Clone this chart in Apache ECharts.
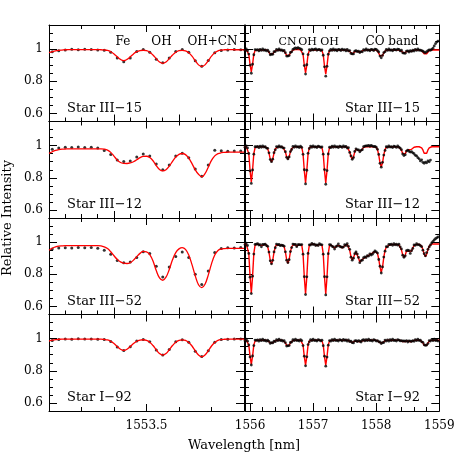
<!DOCTYPE html>
<html><head><meta charset="utf-8">
<script src="https://cdn.jsdelivr.net/npm/echarts@6/dist/echarts.min.js"></script>
<style>html,body{margin:0;padding:0;background:#fff}#c{width:463px;height:463px}</style>
</head><body><div id="c"></div>
<script>
// ---------------- DATA ----------------
const stars = ['Star III\u221215', 'Star III\u221212', 'Star III\u221252', 'Star I\u221292'];
const yTickLabels = [0.6, 0.8, 1];
const leftXTickLabels = [1553.5];
const rightXTickLabels = [1556, 1557, 1558, 1559];
const leftLineLabels = ['Fe', 'OH', 'OH+CN'];
const rightLineLabels = ['CN', 'OH', 'OH', 'CO band'];

const waveLeft = [1553.20,1553.21,1553.22,1553.23,1553.24,1553.25,1553.26,1553.27,1553.28,1553.29,
1553.30,1553.31,1553.32,1553.33,1553.34,1553.35,1553.36,1553.37,1553.38,1553.39,
1553.40,1553.41,1553.42,1553.43,1553.44,1553.45,1553.46,1553.47,1553.48,1553.49,
1553.50,1553.51,1553.52,1553.53,1553.54,1553.55,1553.56,1553.57,1553.58,1553.59,
1553.60,1553.61,1553.62,1553.63,1553.64,1553.65,1553.66,1553.67,1553.68,1553.69,
1553.70,1553.71,1553.72,1553.73,1553.74,1553.75,1553.76,1553.77,1553.78,1553.79,1553.80];

const leftModel15 = [.978,.984,.989,.992,.994,.996,.997,.997,.997,.997,
.997,.997,.997,.997,.997,.997,.996,.995,.992,.984,
.970,.952,.936,.929,.936,.952,.970,.984,.991,.993,
.990,.981,.963,.941,.920,.912,.920,.941,.963,.981,
.990,.992,.989,.977,.956,.928,.902,.892,.902,.928,
.956,.977,.989,.994,.996,.997,.997,.996,.996,.995,.995];
const leftModel12 = [.952,.962,.970,.975,.978,.979,.980,.980,.980,.980,
.980,.980,.980,.980,.980,.980,.980,.978,.972,.958,
.935,.910,.895,.890,.889,.892,.900,.912,.925,.933,
.934,.926,.906,.876,.852,.843,.850,.872,.902,.929,
.946,.951,.944,.922,.888,.850,.822,.806,.826,.866,
.908,.936,.950,.956,.958,.959,.960,.960,.960,.960,.960];
const leftModel52 = [.950,.962,.970,.975,.977,.978,.978,.978,.978,.978,
.978,.978,.978,.978,.978,.978,.976,.970,.960,.940,
.915,.893,.877,.869,.867,.872,.888,.910,.930,.942,
.940,.922,.883,.823,.778,.763,.782,.830,.890,.935,
.958,.966,.955,.920,.860,.790,.735,.717,.738,.795,
.865,.920,.948,.957,.960,.961,.961,.961,.961,.961,.961];
const leftModel92 = [.985,.990,.994,.996,.997,.997,.997,.997,.997,.997,
.997,.997,.997,.997,.997,.997,.997,.995,.992,.984,
.969,.951,.934,.927,.934,.951,.969,.984,.991,.993,
.989,.978,.957,.931,.907,.897,.907,.931,.957,.978,
.989,.992,.989,.976,.954,.924,.898,.887,.898,.924,
.954,.976,.989,.994,.996,.997,.997,.997,.997,.997,.997];

const waveLeftObs = [1553.21,1553.23,1553.25,1553.27,1553.29,1553.31,1553.33,1553.35,1553.37,1553.39,
1553.41,1553.43,1553.45,1553.47,1553.49,1553.51,1553.53,1553.55,1553.57,1553.59,
1553.61,1553.63,1553.65,1553.67,1553.69,1553.71,1553.73,1553.75,1553.77,1553.79];
const leftObs15 = [.983,.990,.994,.999,.996,1.000,.997,.995,.993,.980,.945,.922,.945,.985,.998,
.980,.937,.915,.945,.985,.998,.980,.928,.893,.930,.978,.992,.995,.997,.996];
const leftObs12 = [.978,.986,.990,.989,.991,.988,.990,.986,.970,.945,.910,.902,.905,.930,.948,
.935,.885,.850,.880,.935,.952,.925,.855,.810,.880,.972,.968,.965,.967,.966];
const leftObs52 = [.958,.963,.965,.964,.966,.965,.967,.962,.950,.925,.885,.872,.876,.905,.940,
.930,.850,.783,.845,.910,.938,.905,.800,.736,.820,.935,.960,.965,.964,.966];
const leftObs92 = [.988,.995,.998,.996,.999,.997,.998,.996,.994,.982,.948,.926,.950,.985,.995,
.980,.930,.898,.932,.980,.993,.977,.922,.889,.925,.978,.994,.996,.998,.997];

const waveRight = [1555.90,1555.92,1555.94,1555.96,1555.98,1556.00,1556.02,1556.04,1556.06,1556.08,
1556.10,1556.12,1556.14,1556.16,1556.18,1556.20,1556.22,1556.24,1556.26,1556.28,
1556.30,1556.32,1556.34,1556.36,1556.38,1556.40,1556.42,1556.44,1556.46,1556.48,
1556.50,1556.52,1556.54,1556.56,1556.58,1556.60,1556.62,1556.64,1556.66,1556.68,
1556.70,1556.72,1556.74,1556.76,1556.78,1556.80,1556.82,1556.84,1556.86,1556.88,
1556.90,1556.92,1556.94,1556.96,1556.98,1557.00,1557.02,1557.04,1557.06,1557.08,
1557.10,1557.12,1557.14,1557.16,1557.18,1557.20,1557.22,1557.24,1557.26,1557.28,
1557.30,1557.32,1557.34,1557.36,1557.38,1557.40,1557.42,1557.44,1557.46,1557.48,
1557.50,1557.52,1557.54,1557.56,1557.58,1557.60,1557.62,1557.64,1557.66,1557.68,
1557.70,1557.72,1557.74,1557.76,1557.78,1557.80,1557.82,1557.84,1557.86,1557.88,
1557.90,1557.92,1557.94,1557.96,1557.98,1558.00,1558.02,1558.04,1558.06,1558.08,
1558.10,1558.12,1558.14,1558.16,1558.18,1558.20,1558.22,1558.24,1558.26,1558.28,
1558.30,1558.32,1558.34,1558.36,1558.38,1558.40,1558.42,1558.44,1558.46,1558.48,
1558.50,1558.52,1558.54,1558.56,1558.58,1558.60,1558.62,1558.64,1558.66,1558.68,
1558.70,1558.72,1558.74,1558.76,1558.78,1558.80,1558.82,1558.84,1558.86,1558.88,
1558.90,1558.92,1558.94,1558.96,1558.98,1559.00];

const rightModel15 = [.995,.995,.995,.992,.969,.905,.858,.905,.969,.992,
.995,.994,.995,.996,.995,.994,.995,.996,.994,.991,
.982,.969,.963,.969,.982,.991,.994,.995,.996,.995,
.994,.994,.989,.977,.961,.952,.961,.977,.989,.994,
.996,.997,.996,.997,.996,.995,.992,.968,.901,.852,
.901,.968,.992,.995,.994,.995,.996,.995,.994,.995,
.996,.995,.991,.966,.896,.845,.896,.966,.991,.995,
.994,.995,.996,.995,.994,.995,.996,.995,.994,.995,
.995,.994,.994,.992,.985,.975,.970,.975,.984,.990,
.988,.983,.980,.983,.989,.993,.995,.996,.995,.994,
.995,.996,.995,.994,.995,.994,.989,.977,.959,.950,
.959,.977,.989,.994,.995,.996,.995,.994,.995,.996,
.995,.994,.995,.994,.992,.987,.979,.975,.979,.985,
.988,.986,.985,.987,.991,.994,.995,.996,.995,.994,
.994,.991,.983,.971,.965,.971,.983,.991,.994,.995,
.996,.995,.994,.995,.996,.995];
const rightObs15 = [.999,.992,1.001,.990,.969,.900,.850,.906,.965,.997,
.994,.997,.989,.999,.992,1.001,.993,.995,.989,.994,
.983,.965,.968,.968,.984,.985,.998,.992,1.001,.993,
.995,.989,.992,.978,.957,.957,.960,.979,.983,.998,
1.003,1.008,1.004,1.009,1.005,1.002,.996,.970,.898,.845,
.903,.966,.997,.991,1.000,.994,.998,1.002,.993,.997,
.999,.991,.995,.962,.890,.832,.893,.968,.989,.999,
.992,1.001,.993,.996,.990,.998,.996,.991,1.000,.994,
.997,.989,.998,.989,.991,.973,.970,.970,.987,.991,
.984,.988,.979,.985,.983,.997,.992,1.001,.993,.995,
.990,.998,.996,.991,1.000,.999,.990,.982,.957,.946,
.961,.978,.984,.998,.992,1.001,.993,.995,.990,.998,
.996,.994,1.000,.998,.989,.993,.977,.975,.974,.988,
.989,.982,.990,.986,.993,.988,.999,.992,1.001,.993,
.994,.990,.988,.981,.978,.984,.990,.995,.993,.998,
1.006,1.020,1.034,1.044,1.050,null];

const rightModel12 = [.993,.993,.993,.988,.951,.848,.773,.848,.951,.988,
.993,.993,.993,.993,.993,.993,.993,.993,.990,.980,
.954,.917,.898,.917,.954,.980,.990,.993,.993,.993,
.993,.991,.982,.961,.931,.915,.931,.961,.982,.991,
.993,.993,.993,.993,.993,.993,.988,.950,.845,.768,
.845,.950,.988,.993,.993,.993,.993,.993,.993,.993,
.993,.993,.988,.950,.845,.768,.845,.950,.988,.993,
.993,.993,.993,.993,.993,.993,.993,.993,.993,.993,
.993,.993,.991,.983,.961,.931,.916,.931,.961,.979,
.978,.969,.963,.969,.981,.989,.992,.993,.993,.993,
.993,.993,.993,.993,.993,.989,.976,.942,.893,.868,
.893,.942,.976,.989,.993,.993,.993,.993,.993,.993,
.993,.993,.993,.991,.986,.971,.951,.940,.950,.969,
.978,.975,.973,.977,.985,.990,.992,.993,.993,.993,
.991,.986,.973,.953,.943,.953,.973,.986,.991,.993,
.993,.993,.993,.993,.993,.993];
const rightObs12 = [.997,.990,.999,.986,.951,.843,.765,.849,.947,.993,
.992,.995,.987,.997,.990,.999,.991,.993,.985,.983,
.955,.913,.900,.916,.956,.974,.994,.990,.999,.991,
.993,.986,.985,.962,.927,.917,.930,.963,.976,.995,
.990,.999,.991,.993,.988,.996,.989,.946,.850,.762,
.847,.952,.982,.997,.990,.999,.991,.993,.988,.996,
.994,.989,.992,.947,.851,.760,.845,.948,.990,.987,
.997,.990,.999,.991,.993,.988,.996,.994,.989,.998,
.992,.995,.985,.987,.958,.936,.915,.926,.964,.980,
.974,.974,.962,.971,.975,.993,.997,.998,.999,1.001,
.996,1.002,.997,.994,.995,.990,.977,.945,.890,.866,
.896,.941,.970,.993,.990,.999,.991,.993,.988,.996,
.994,.989,.998,.990,.985,.975,.948,.938,.944,.966,
.972,.965,.960,.962,.955,.950,.940,.936,.925,.918,
.905,.912,.896,.890,.898,.893,.905,.899,.910,null,
null,null,null,null,null,null];

const rightModel52 = [.988,.988,.988,.981,.930,.787,.683,.787,.930,.981,
.988,.988,.986,.980,.974,.980,.986,.988,.984,.971,
.937,.888,.863,.888,.937,.971,.984,.986,.980,.976,
.981,.984,.972,.939,.892,.868,.892,.939,.972,.984,
.988,.980,.974,.980,.986,.988,.981,.929,.783,.678,
.783,.929,.981,.988,.988,.988,.986,.982,.978,.982,
.986,.988,.981,.929,.783,.678,.783,.929,.981,.986,
.978,.968,.963,.968,.978,.984,.978,.968,.963,.968,
.978,.985,.986,.977,.949,.910,.890,.905,.925,.938,
.930,.900,.877,.883,.893,.900,.903,.908,.913,.918,
.922,.927,.932,.938,.942,.945,.930,.895,.845,.812,
.845,.905,.950,.968,.975,.980,.985,.985,.985,.985,
.985,.985,.985,.983,.974,.952,.921,.905,.920,.945,
.953,.943,.935,.945,.965,.978,.984,.986,.986,.986,
.983,.975,.954,.925,.910,.925,.954,.975,.983,.988,
.988,.988,.988,.988,.988,.988];
const rightObs52 = [.992,.985,.994,.979,.930,.782,.680,.788,.926,.986,
.987,.990,.982,.984,.971,.986,.984,.988,.979,.974,
.938,.884,.865,.887,.939,.965,.988,.983,.986,.978,
.981,.979,.975,.940,.888,.873,.891,.941,.966,.988,
.985,.986,.972,.984,.984,.983,.985,.925,.785,.674,
.784,.930,.983,.982,.992,.985,.988,.979,.983,.979,
.990,.985,.983,.925,.785,.672,.784,.928,.985,.982,
.974,.970,.957,.972,.976,.989,.974,.970,.968,.969,
.984,.979,.990,.974,.955,.906,.888,.900,.928,.939,
.926,.905,.872,.885,.888,.903,.908,.904,.916,.913,
.927,.920,.925,.936,.945,.940,.932,.892,.850,.808,
.846,.907,.944,.972,.971,.986,.984,.987,.980,.990,
.983,.988,.981,.987,.971,.958,.919,.906,.915,.947,
.950,.947,.930,.947,.961,.982,.980,.990,.983,.985,
.978,.972,.950,.928,.915,.935,.955,.970,.982,.995,
1.005,1.014,1.021,1.027,1.032,null];

const rightModel92 = [.990,.990,.990,.986,.961,.891,.840,.891,.961,.986,
.990,.990,.990,.990,.990,.990,.990,.990,.989,.987,
.982,.974,.970,.974,.982,.987,.989,.990,.990,.990,
.990,.989,.985,.974,.958,.950,.958,.974,.985,.989,
.990,.990,.990,.990,.990,.990,.986,.961,.888,.835,
.888,.961,.986,.990,.990,.990,.990,.990,.990,.990,
.990,.990,.986,.961,.888,.835,.888,.961,.986,.990,
.990,.990,.990,.990,.990,.990,.990,.990,.990,.990,
.990,.990,.990,.988,.984,.978,.975,.978,.984,.987,
.985,.982,.980,.982,.986,.989,.990,.990,.990,.990,
.990,.990,.990,.990,.990,.989,.987,.982,.974,.970,
.974,.982,.987,.989,.990,.990,.990,.990,.990,.990,
.990,.990,.990,.990,.989,.986,.982,.980,.982,.985,
.985,.982,.980,.982,.986,.989,.990,.990,.990,.990,
.989,.985,.974,.958,.950,.958,.974,.985,.989,.990,
.990,.990,.990,.990,.990,.990];
const rightObs92 = [.994,.987,.996,.984,.961,.886,.836,.892,.957,.991,
.989,.992,.984,.994,.987,.996,.988,.990,.984,.990,
.983,.970,.975,.973,.984,.981,.993,.987,.996,.988,
.990,.984,.988,.975,.954,.955,.957,.976,.979,.993,
.987,.996,.988,.990,.985,.993,.987,.957,.891,.831,
.887,.963,.980,.994,.987,.996,.988,.990,.985,.993,
.991,.986,.990,.956,.891,.829,.885,.959,.988,.984,
.994,.987,.996,.988,.990,.985,.993,.991,.986,.995,
.989,.992,.984,.992,.981,.984,.975,.973,.986,.988,
.981,.987,.984,.979,.990,.993,.986,.994,.987,.996,
.988,.990,.985,.993,.991,.985,.988,.980,.979,.969,
.975,.976,.991,.985,.992,.984,.994,.987,.996,.988,
.990,.985,.993,.991,.986,.988,.984,.986,.983,.988,
.979,.986,.985,.982,.987,.983,.994,.987,.996,.988,
.990,.980,.977,.962,.958,.960,.969,.987,.985,.994,
.987,.996,.988,.990,.985,null];

// ---------------- CHART ----------------
const leftModels = [leftModel15, leftModel12, leftModel52, leftModel92];
const leftObs = [leftObs15, leftObs12, leftObs52, leftObs92];
const rightModels = [rightModel15, rightModel12, rightModel52, rightModel92];
const rightObs = [rightObs15, rightObs12, rightObs52, rightObs92];

const FONT = '"DejaVu Serif", serif';
const rowTop = [25, 121.5, 218, 314.5], rowH = 96.5;
const cols = [
  {left: 49, width: 195, range: [1553.2, 1553.8]},
  {left: 245, width: 194.3, range: [1555.92, 1559]}
];
const yMinor = [0.65, 0.7, 0.75, 0.85, 0.9, 0.95, 1.05, 1.1];
const yMajor = [0.6, 0.8, 1];
const lTopMinor = [1553.3, 1553.4, 1553.6, 1553.7], lTopMajor = [1553.5];
const lBotMinor = [1553.25, 1553.3, 1553.35, 1553.45, 1553.5, 1553.55, 1553.65, 1553.7, 1553.75];
const lBotMajor = [1553.4, 1553.6];
const rMinor = [1556.2, 1556.4, 1556.6, 1556.8, 1557.2, 1557.4, 1557.6, 1557.8, 1558.2, 1558.4, 1558.6, 1558.8];
const rMajor = [1556, 1557, 1558];

const grid = [], xAxis = [], yAxis = [], series = [];
const lineStyle = {color: '#000', width: 1};
function mkX(gi, range, pos, ticks, len, showLine, labels) {
  return {type: 'value', gridIndex: gi, min: range[0], max: range[1], position: pos,
    axisLine: {show: showLine, onZero: false, lineStyle},
    axisTick: {show: true, inside: true, length: len, customValues: ticks, lineStyle},
    axisLabel: {show: !!labels, customValues: labels || [], margin: 9, color: '#000',
      fontFamily: FONT, fontSize: 12, formatter: v => String(v)},
    splitLine: {show: false}};
}
function mkY(gi, pos, ticks, len, showLine, labels) {
  return {type: 'value', gridIndex: gi, min: 0.55, max: 1.15, position: pos,
    axisLine: {show: showLine, onZero: false, lineStyle},
    axisTick: {show: true, inside: true, length: len, customValues: ticks, lineStyle},
    axisLabel: {show: !!labels, customValues: labels || [], margin: 6, color: '#000',
      fontFamily: FONT, fontSize: 12, formatter: v => String(v)},
    splitLine: {show: false}};
}
const zip = (xs, ys) => xs.map((x, i) => [x, ys[i]]).filter(p => p[1] !== null && p[1] !== undefined);

for (let r = 0; r < 4; r++) {
  for (let c = 0; c < 2; c++) {
    const col = cols[c];
    const gi = grid.length;
    grid.push({left: col.left, top: rowTop[r], width: col.width, height: rowH});
    const xi = xAxis.length, yi = yAxis.length;
    const bottomRow = r === 3;
    if (c === 0) {
      xAxis.push(mkX(gi, col.range, 'bottom', bottomRow ? lTopMinor : lBotMinor, 4, true, null));
      xAxis.push(mkX(gi, col.range, 'bottom', bottomRow ? lTopMajor : lBotMajor, 7, false, bottomRow ? leftXTickLabels : null));
      xAxis.push(mkX(gi, col.range, 'top', lTopMinor, 4, true, null));
      xAxis.push(mkX(gi, col.range, 'top', lTopMajor, 7, false, null));
    } else {
      xAxis.push(mkX(gi, col.range, 'bottom', rMinor, 4, true, null));
      xAxis.push(mkX(gi, col.range, 'bottom', rMajor, 8, false, bottomRow ? rightXTickLabels : null));
      xAxis.push(mkX(gi, col.range, 'top', rMinor, 4, true, null));
      xAxis.push(mkX(gi, col.range, 'top', rMajor, 8, false, null));
    }
    yAxis.push(mkY(gi, 'left', yMinor, 4, true, null));
    yAxis.push(mkY(gi, 'left', yMajor, 8, false, c === 0 ? yTickLabels : null));
    yAxis.push(mkY(gi, 'right', yMinor, 4, true, null));
    yAxis.push(mkY(gi, 'right', yMajor, 8, false, null));

    const wave = c === 0 ? waveLeft : waveRight;
    const obsWave = c === 0 ? waveLeftObs : waveRight;
    const model = c === 0 ? leftModels[r] : rightModels[r];
    const obs = c === 0 ? leftObs[r] : rightObs[r];
    series.push({type: 'scatter', xAxisIndex: xi, yAxisIndex: yi, data: zip(obsWave, obs),
      symbol: 'circle', symbolSize: c === 0 ? 3 : 2.8, itemStyle: {color: '#000'}, silent: true,
      z: c === 0 ? 2 : 4});
    series.push({type: 'line', xAxisIndex: xi, yAxisIndex: yi, data: zip(wave, model),
      showSymbol: false, smooth: c === 0 ? 0.4 : false,
      lineStyle: {color: '#ff0000', width: c === 0 ? 1.3 : 1.4}, silent: true, z: 3});
  }
}

const txt = (text, x, y, size, align, extra) => Object.assign({type: 'text', x, y, silent: true,
  style: {text, fill: '#000', font: size + 'px ' + FONT, textAlign: align || 'center', textVerticalAlign: 'middle'}}, extra || {});
const graphic = [];
const leftLabelX = [123, 161.5, 212.5];
leftLineLabels.forEach((t, i) => graphic.push(txt(t, leftLabelX[i], 42, 12)));
const rightLabelX = [287.5, 307.5, 329.5, 392];
rightLineLabels.forEach((t, i) => graphic.push(txt(t, rightLabelX[i], 42, i < 3 ? 11 : 12)));
stars.forEach((s, r) => {
  const y = rowTop[r] + rowH - 13;
  graphic.push(txt(s, 67, y, 13, 'left'));
  graphic.push(txt(s, 420, y, 13, 'right'));
});
graphic.push(txt('Wavelength [nm]', 244, 446, 13));
graphic.push(txt('Relative Intensity', 8, 218, 13, 'center', {rotation: Math.PI / 2}));

const chart = echarts.init(document.getElementById('c'));
chart.setOption({animation: false, backgroundColor: '#fff', grid, xAxis, yAxis, series, graphic});
</script>
</body></html>
